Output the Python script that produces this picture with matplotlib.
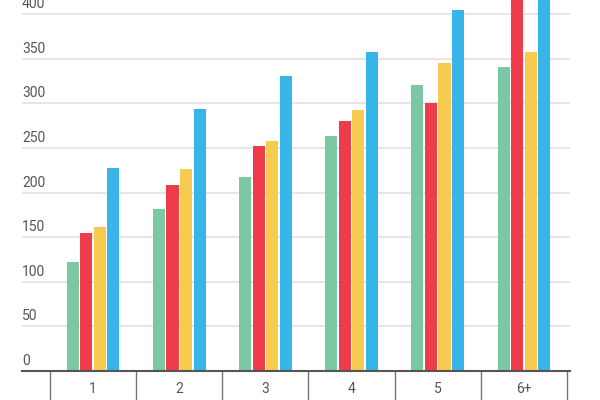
import matplotlib.pyplot as plt
import matplotlib.transforms as mtransforms
import numpy as np

plt.rcParams['font.family'] = ['Roboto', 'DejaVu Sans']

# values
categories = ['1', '2', '3', '4', '5', '6+']
green = [122, 182, 217, 263, 321, 341]
red = [155, 209, 252, 280, 301, 430]
yellow = [161, 226, 258, 293, 345, 358]
blue = [228, 294, 331, 358, 405, 445]
y_ticks = [0, 50, 100, 150, 200, 250, 300, 350, 400]

series = [green, red, yellow, blue]
colors = ['#7cc7a4', '#ef3c4b', '#f7ca50', '#38b5e9']

fig = plt.figure(figsize=(6, 4), dpi=100)
ax = fig.add_axes([22 / 600, 29 / 400, 548 / 600, 371 / 400])

x = np.arange(len(categories))
bar_w = 0.14
step = 0.157
for i, (vals, col) in enumerate(zip(series, colors)):
    ax.bar(x + (i - 1.5) * step, vals, width=bar_w, color=col, zorder=3)

ax.set_xlim(-0.825, 5.535)
ax.set_ylim(0, 416)

# horizontal grid
for v in y_ticks[1:]:
    ax.axhline(v, color='#e6e6e6', linewidth=1.4, zorder=1)

# y labels sit inside the plot, just above each grid line
offset = mtransforms.offset_copy(ax.get_yaxis_transform(), fig=fig, x=0, y=3, units='dots')
for v in y_ticks:
    ax.text(0, v, str(v), transform=offset, ha='left', va='bottom',
            fontsize=10, color='#555555')
ax.set_yticks([])

# x axis: labels at centers, divider ticks between categories
ax.set_xticks(x)
ax.set_xticklabels(categories, fontsize=10, color='#555555')
ax.tick_params(axis='x', which='major', length=0, pad=8)
ax.set_xticks(np.arange(len(categories) + 1) - 0.5, minor=True)
ax.tick_params(axis='x', which='minor', length=21, width=1.0, color='#777777', direction='out')

for s in ['top', 'right', 'left']:
    ax.spines[s].set_visible(False)
ax.spines['bottom'].set_color('#555555')
ax.spines['bottom'].set_linewidth(1.5)
ax.spines['bottom'].set_zorder(4)

fig.savefig('out.png', dpi=100)
